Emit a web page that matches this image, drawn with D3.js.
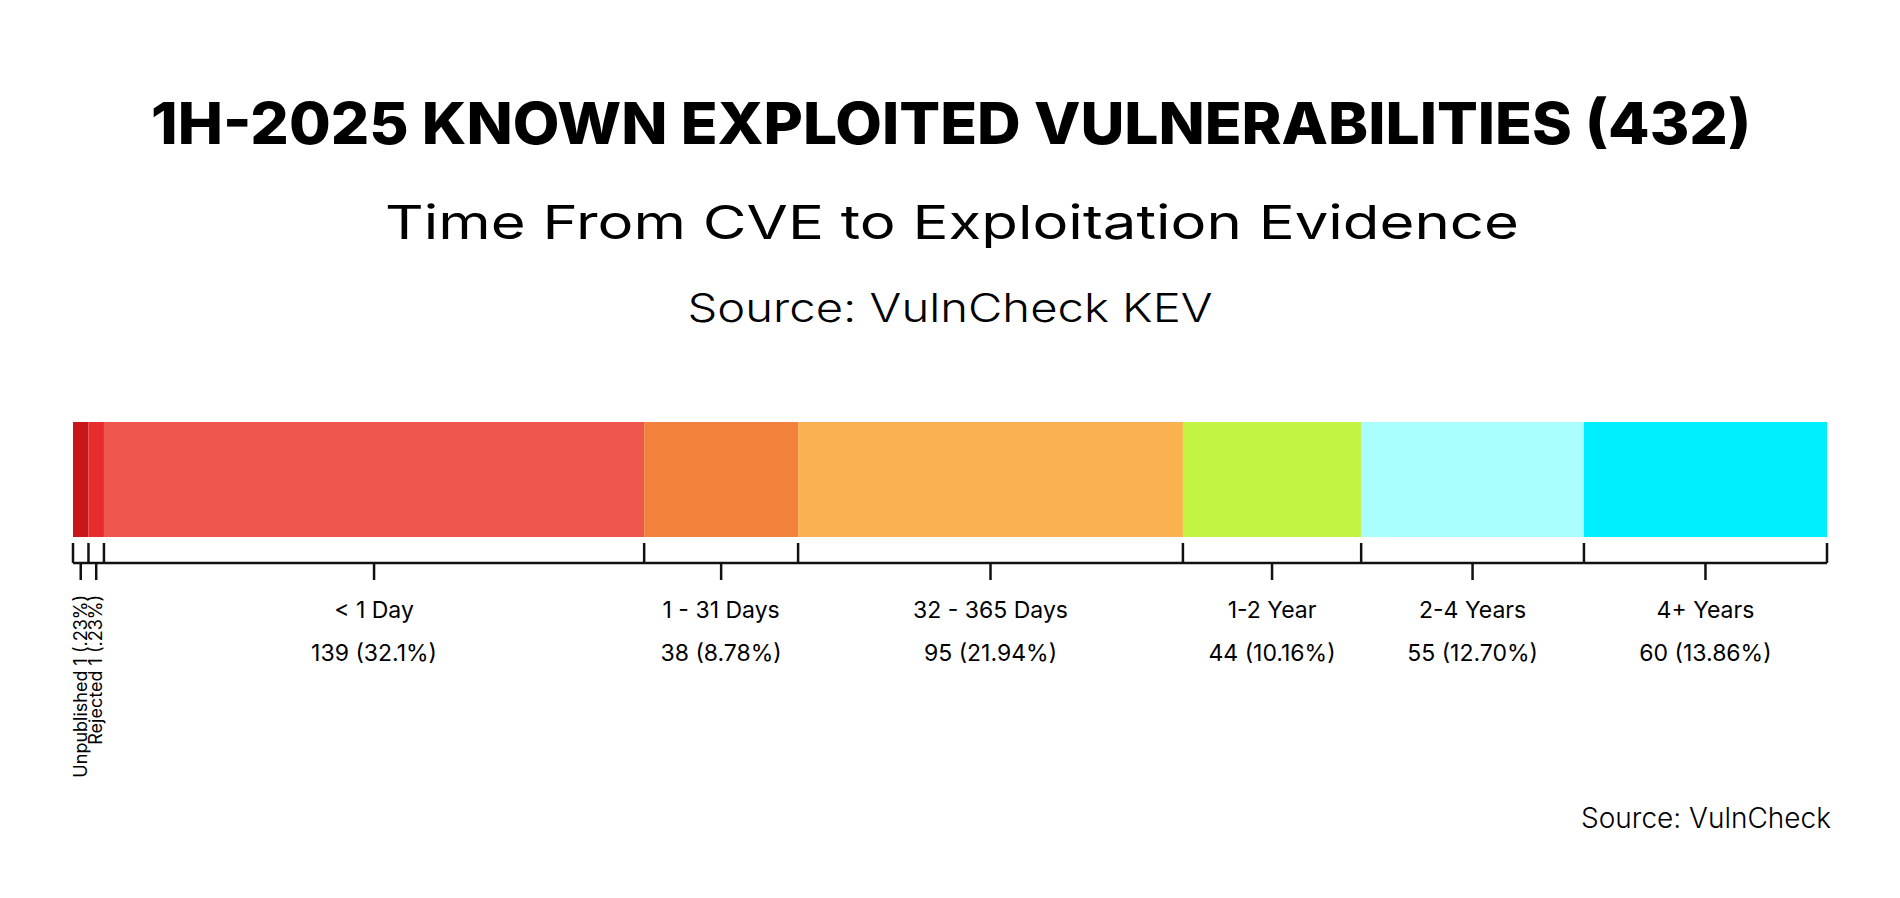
<!DOCTYPE html>
<html><head><meta charset="utf-8">
<script src="https://cdn.jsdelivr.net/npm/d3@7"></script>
<style>body{margin:0;background:#fff}svg{display:block}text{font-family:Inter,"Noto Sans",sans-serif;fill:#000}</style>
</head><body><svg id="c" width="1900" height="898"></svg>
<script>
const categories = ["Unpublished","Rejected","< 1 Day","1 - 31 Days","32 - 365 Days","1-2 Year","2-4 Years","4+ Years"];
const counts = [1,1,139,38,95,44,55,60];
const pctLabels = [".23%",".23%","32.1%","8.78%","21.94%","10.16%","12.70%","13.86%"];
const colors = ["#C8161A","#E82B2D","#EF574E","#F2813E","#F9B24F","#C1F443","#AAFFFE","#00EFFE"];
const minUnits = 3.82; // tiny segments shown wider for visibility

const total = d3.sum(counts);
// display weights: tiny values widened, the excess taken from the largest segment
const weights = counts.map(v => Math.max(v, minUnits));
const excess = d3.sum(weights) - total;
const iMax = d3.maxIndex(counts);
weights[iMax] -= excess;
let acc = 0;
const segs = weights.map((w,i)=>{const s={i,x0:acc,x1:acc+w};acc+=w;return s;});

const svg = d3.select("#c");
const x = d3.scaleLinear().domain([0,total]).range([73,1827]);
const y = d3.scaleBand().domain(["bar"]).range([422,537]);

svg.append("text").attr("x",951).attr("y",144).attr("text-anchor","middle")
  .attr("font-size",58).attr("font-weight",800).attr("textLength",1600).attr("lengthAdjust","spacingAndGlyphs")
  .text("1H-2025 KNOWN EXPLOITED VULNERABILITIES (432)");
svg.append("text").attr("x",952).attr("y",239).attr("text-anchor","middle")
  .attr("font-size",47).attr("font-weight",400).attr("textLength",1134).attr("lengthAdjust","spacingAndGlyphs")
  .text("Time From CVE to Exploitation Evidence");
svg.append("text").attr("x",950).attr("y",322).attr("text-anchor","middle")
  .attr("font-size",40).attr("font-weight",300).attr("textLength",525).attr("lengthAdjust","spacingAndGlyphs")
  .text("Source: VulnCheck KEV");

svg.selectAll("rect.seg").data(segs).join("rect").attr("class","seg")
  .attr("x",d=>x(d.x0)).attr("width",d=>x(d.x1)-x(d.x0))
  .attr("y",y("bar")).attr("height",y.bandwidth()).attr("fill",d=>colors[d.i]);

// axis
const g = svg.append("g").attr("stroke","#111").attr("stroke-width",2.5);
g.append("line").attr("x1",x(0)).attr("x2",x(total)).attr("y1",563).attr("y2",563);
const bounds = [0, ...segs.map(s=>s.x1)];
g.selectAll("line.b").data(bounds).join("line").attr("class","b")
  .attr("x1",d=>x(d)).attr("x2",d=>x(d)).attr("y1",543).attr("y2",563);
g.selectAll("line.m").data(segs).join("line").attr("class","m")
  .attr("x1",d=>x((d.x0+d.x1)/2)).attr("x2",d=>x((d.x0+d.x1)/2)).attr("y1",563).attr("y2",580);

// labels
segs.forEach(s=>{
  const cx = x((s.x0+s.x1)/2);
  if (counts[s.i] < 5) {
    svg.append("text").attr("transform",`translate(${cx+6},595) rotate(-90)`)
      .attr("text-anchor","end").attr("font-size",18)
      .text(`${categories[s.i]} ${counts[s.i]} (${pctLabels[s.i]})`);
  } else {
    svg.append("text").attr("x",cx).attr("y",618).attr("text-anchor","middle").attr("font-size",23)
      .text(categories[s.i]);
    svg.append("text").attr("x",cx).attr("y",661).attr("text-anchor","middle").attr("font-size",23)
      .text(`${counts[s.i]} (${pctLabels[s.i]})`);
  }
});

svg.append("text").attr("x",1831).attr("y",828).attr("text-anchor","end")
  .attr("font-size",28).attr("font-weight",300).text("Source: VulnCheck");
</script></body></html>
